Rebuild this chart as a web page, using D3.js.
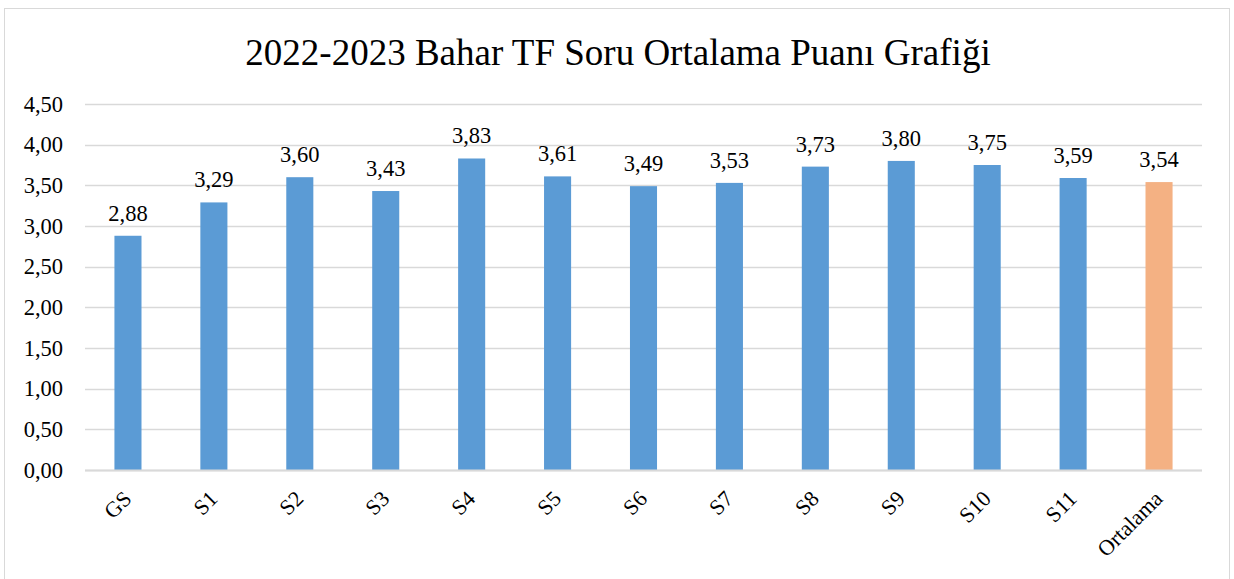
<!DOCTYPE html>
<html>
<head>
<meta charset="utf-8">
<script src="https://d3js.org/d3.v7.min.js"></script>
<style>
  body { margin: 0; background: #fff; }
  svg text { font-family: "Liberation Serif", "Times New Roman", serif !important; fill: #000; }
</style>
</head>
<body>
<div id="chart"></div>
<script>
// chart data
var categories = ["GS", "S1", "S2", "S3", "S4", "S5", "S6", "S7", "S8", "S9", "S10", "S11", "Ortalama"];
var scores = [2.88, 3.29, 3.60, 3.43, 3.83, 3.61, 3.49, 3.53, 3.73, 3.80, 3.75, 3.59, 3.54];
var yTicks = [0, 0.5, 1, 1.5, 2, 2.5, 3, 3.5, 4, 4.5];
var chartTitle = "2022-2023 Bahar TF Soru Ortalama Puanı Grafiği";

var W = 1234, H = 579;
var margin = { top: 104, right: 32, bottom: 109, left: 85 };
var width = W - margin.left - margin.right;
var height = H - margin.top - margin.bottom;
var serif = "'Liberation Serif', 'Times New Roman', serif";

var svg = d3.select("#chart").append("svg")
    .attr("width", W)
    .attr("height", H);

// outer frame
svg.append("rect")
    .attr("x", 4.5).attr("y", 8.5)
    .attr("width", 1225).attr("height", 600)
    .attr("fill", "#fff")
    .attr("stroke", "#d9d9d9");

svg.append("text")
    .attr("x", 618)
    .attr("y", 65)
    .attr("text-anchor", "middle")
    .style("font-family", serif)
    .style("font-size", "37px")
    .text(chartTitle);

var g = svg.append("g")
    .attr("transform", "translate(" + margin.left + "," + margin.top + ")");

var x = d3.scaleBand()
    .domain(categories)
    .range([0, width])
    .paddingInner(0.685)
    .paddingOuter(0.3425);

var y = d3.scaleLinear()
    .domain([0, 4.5])
    .range([height, 0]);

var fmt = function(v) { return d3.format(".2f")(v).replace(".", ","); };

// gridlines
g.selectAll(".grid")
    .data(yTicks)
    .enter().append("line")
    .attr("x1", 0).attr("x2", width)
    .attr("y1", function(d) { return Math.round(y(d)) + 0.5; })
    .attr("y2", function(d) { return Math.round(y(d)) + 0.5; })
    .attr("stroke", "#d9d9d9")
    .attr("stroke-width", 1.5);

// y axis labels
var yaxis = d3.axisLeft(y).tickValues(yTicks).tickFormat(fmt).tickSize(0).tickPadding(22);
var ya = g.append("g").call(yaxis);
ya.attr("font-family", null);
ya.select(".domain").remove();
ya.selectAll("text")
    .style("font-family", serif)
    .style("font-size", "22.5px");

// bars
g.selectAll(".bar")
    .data(scores)
    .enter().append("rect")
    .attr("class", "bar")
    .attr("x", function(d, i) { return x(categories[i]); })
    .attr("width", x.bandwidth())
    .attr("y", function(d) { return y(d); })
    .attr("height", function(d) { return height - y(d); })
    .attr("fill", function(d, i) { return categories[i] === "Ortalama" ? "#f4b183" : "#5b9bd5"; });

// value labels
g.selectAll(".val")
    .data(scores)
    .enter().append("text")
    .attr("class", "val")
    .attr("x", function(d, i) { return x(categories[i]) + x.bandwidth() / 2; })
    .attr("y", function(d) { return y(d) - 15; })
    .attr("text-anchor", "middle")
    .style("font-family", serif)
    .style("font-size", "22.5px")
    .text(function(d) { return fmt(d); });

// baseline
g.append("line")
    .attr("x1", 0).attr("x2", width)
    .attr("y1", height + 0.5).attr("y2", height + 0.5)
    .attr("stroke", "#d9d9d9")
    .attr("stroke-width", 2);

// x labels, rotated
g.selectAll(".xl")
    .data(categories)
    .enter().append("text")
    .attr("class", "xl")
    .attr("text-anchor", "end")
    .style("font-family", serif)
    .style("font-size", "22px")
    .attr("transform", function(d) {
        var cx = x(d) + x.bandwidth() / 2 + 5;
        return "translate(" + cx + "," + (height + 30) + ") rotate(-45)";
    })
    .text(function(d) { return d; });
</script>
</body>
</html>
